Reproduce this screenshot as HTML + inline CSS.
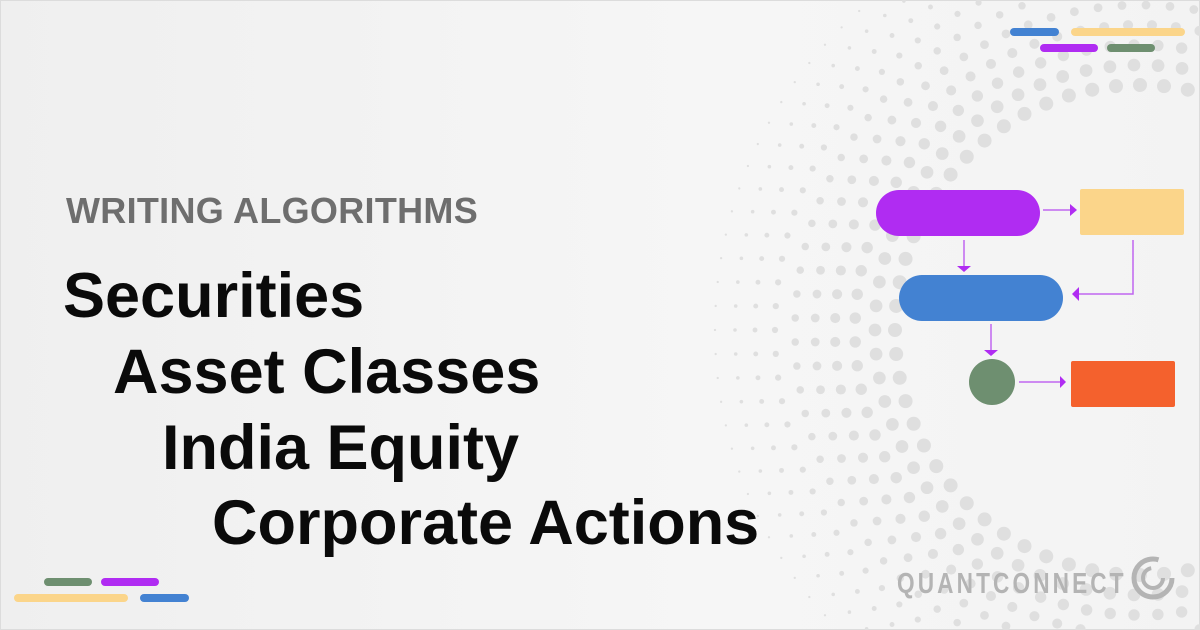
<!DOCTYPE html>
<html><head><meta charset="utf-8"><style>
html,body{margin:0;padding:0}
body{width:1200px;height:630px;position:relative;overflow:hidden;background:linear-gradient(90deg,#efefef,#f6f6f6 60%,#f3f3f3);font-family:"Liberation Sans",sans-serif}
.frame{position:absolute;left:0;top:0;width:1198px;height:628px;border:1px solid #dcdcdc}
.t{position:absolute;white-space:nowrap;font-weight:bold}
.h{font-size:63px;color:#0a0a0a;letter-spacing:0px;line-height:1}
.bar{position:absolute;height:8px;border-radius:4px}
</style></head><body>
<div class="frame"></div>
<svg id="dots" width="1200" height="630" style="position:absolute;left:0;top:0"></svg>
<div class="t" style="left:66px;top:193px;font-size:36px;line-height:1;color:#6e6e6e;letter-spacing:0.3px">WRITING ALGORITHMS</div>
<div class="t h" style="left:63px;top:265px">Securities</div>
<div class="t h" style="left:113px;top:341px">Asset Classes</div>
<div class="t h" style="left:162px;top:417px">India Equity</div>
<div class="t h" style="left:212px;top:492px">Corporate Actions</div>

<div class="bar" style="left:1010px;top:28px;width:49px;background:#4382d2"></div>
<div class="bar" style="left:1071px;top:28px;width:114px;background:#fbd58a"></div>
<div class="bar" style="left:1040px;top:44px;width:58px;background:#b02cf2"></div>
<div class="bar" style="left:1107px;top:44px;width:48px;background:#6e8f70"></div>
<div class="bar" style="left:44px;top:578px;width:48px;background:#6e8f70"></div>
<div class="bar" style="left:101px;top:578px;width:58px;background:#b02cf2"></div>
<div class="bar" style="left:14px;top:594px;width:114px;background:#fbd58a"></div>
<div class="bar" style="left:140px;top:594px;width:49px;background:#4382d2"></div>

<svg width="1200" height="630" style="position:absolute;left:0;top:0">
<g stroke="#c066f0" stroke-width="1.5" fill="none">
<line x1="1043" y1="210" x2="1072" y2="210"/>
<line x1="964" y1="240" x2="964" y2="266"/>
<polyline points="1133,240 1133,294 1078,294"/>
<line x1="991" y1="324" x2="991" y2="350"/>
<line x1="1019" y1="382" x2="1062" y2="382"/>
</g>
<g fill="#b02cf2">
<polygon points="1070,204 1077,210 1070,216"/>
<polygon points="957,266 971,266 964,272"/>
<polygon points="1079,287 1072,294 1079,301"/>
<polygon points="984,350 998,350 991,356"/>
<polygon points="1060,376 1066,382 1060,388"/>
</g>
<rect x="876" y="190" width="164" height="46" rx="23" fill="#b02cf2"/>
<rect x="1080" y="189" width="104" height="46" rx="2" fill="#fbd58a"/>
<rect x="899" y="275" width="164" height="46" rx="23" fill="#4382d2"/>
<circle cx="992" cy="382" r="23" fill="#6e8f70"/>
<rect x="1071" y="361" width="104" height="46" rx="2" fill="#f4612d"/>
</svg>

<div class="t" style="left:897px;top:570px;font-size:29px;line-height:1;color:#b4b4b4;letter-spacing:4px;transform:scaleX(0.78);transform-origin:left">QUANTCONNECT</div>
<svg width="50" height="50" style="position:absolute;left:1128px;top:553px">
<circle cx="25" cy="25" r="19" fill="none" stroke="#b4b4b4" stroke-width="5" stroke-dasharray="95 25"/>
<circle cx="25" cy="25" r="10" fill="none" stroke="#b4b4b4" stroke-width="4" stroke-dasharray="45 18"/>
</svg>
<script>
const svg=document.getElementById('dots');
const cx=1140,cy=330;
for(let k=0;k<10;k++){
  const r=245+k*20;
  const n=Math.round(r*2*Math.PI/24);
  const off=(k%2)*0.5;
  for(let i=0;i<n;i++){
    const a=(i+off)/n*2*Math.PI;
    const x=cx+r*Math.cos(a),y=cy+r*Math.sin(a);
    if(x<690||x>1200||y<0||y>630)continue;
    const s=Math.max(1,7-k*0.65);
    const c=document.createElementNS('http://www.w3.org/2000/svg','circle');
    
    
    c.setAttribute('cx',x);c.setAttribute('cy',y);c.setAttribute('r',s);
    c.setAttribute('fill','#dfdfdf');
    svg.appendChild(c);
  }
}
</script>
</body></html>
